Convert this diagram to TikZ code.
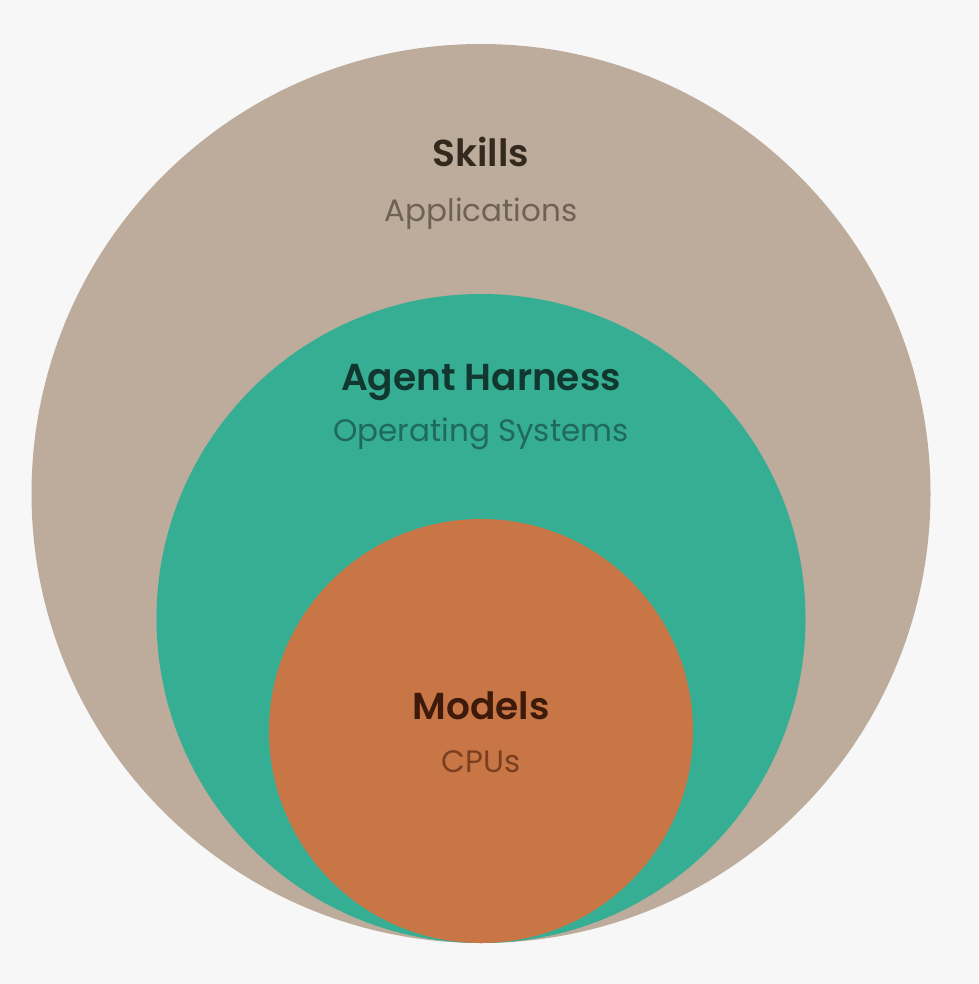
\documentclass[tikz,border=0pt]{standalone}
\usepackage{fontspec}
\setmainfont{Poppins}[BoldFont={Poppins SemiBold}]
\definecolor{bg}{HTML}{F7F7F7}
\definecolor{tan}{HTML}{BDAC9B}
\definecolor{teal}{HTML}{35AE94}
\definecolor{clay}{HTML}{C87646}
\definecolor{tanT}{HTML}{33291F}
\definecolor{tanS}{HTML}{6E6257}
\definecolor{tealT}{HTML}{12372F}
\definecolor{tealS}{HTML}{1F6A5A}
\definecolor{clayT}{HTML}{3D1A0A}
\definecolor{clayS}{HTML}{7A3F20}
\tikzset{
  ttl/.style={anchor=base,inner sep=0pt,font=\bfseries\fontsize{37.5}{42}\selectfont},
  sub/.style={anchor=base,inner sep=0pt,font=\fontsize{31}{36}\selectfont},
}
\begin{document}
\begin{tikzpicture}[x=1pt,y=-1pt]
\fill[bg] (0,0) rectangle (978,984);
\useasboundingbox (0,0) rectangle (978,984);
\fill[tan] (481,493.5) circle[radius=449.5];
\fill[teal] (481,618.5) circle[radius=324.5];
\fill[clay] (481,731) circle[radius=212];
\node[ttl,text=tanT] (skills) at (481,167) {Skills};
\node[sub,text=tanS] (apps) at (481,222) {Applications};
\node[ttl,text=tealT] (agent) at (481,390) {Agent Harness};
\node[sub,text=tealS] (os) at (481,441) {Operating Systems};
\node[ttl,text=clayT] (models) at (481,719) {Models};
\node[sub,text=clayS] (cpus) at (481,772) {CPUs};
\end{tikzpicture}
\end{document}
